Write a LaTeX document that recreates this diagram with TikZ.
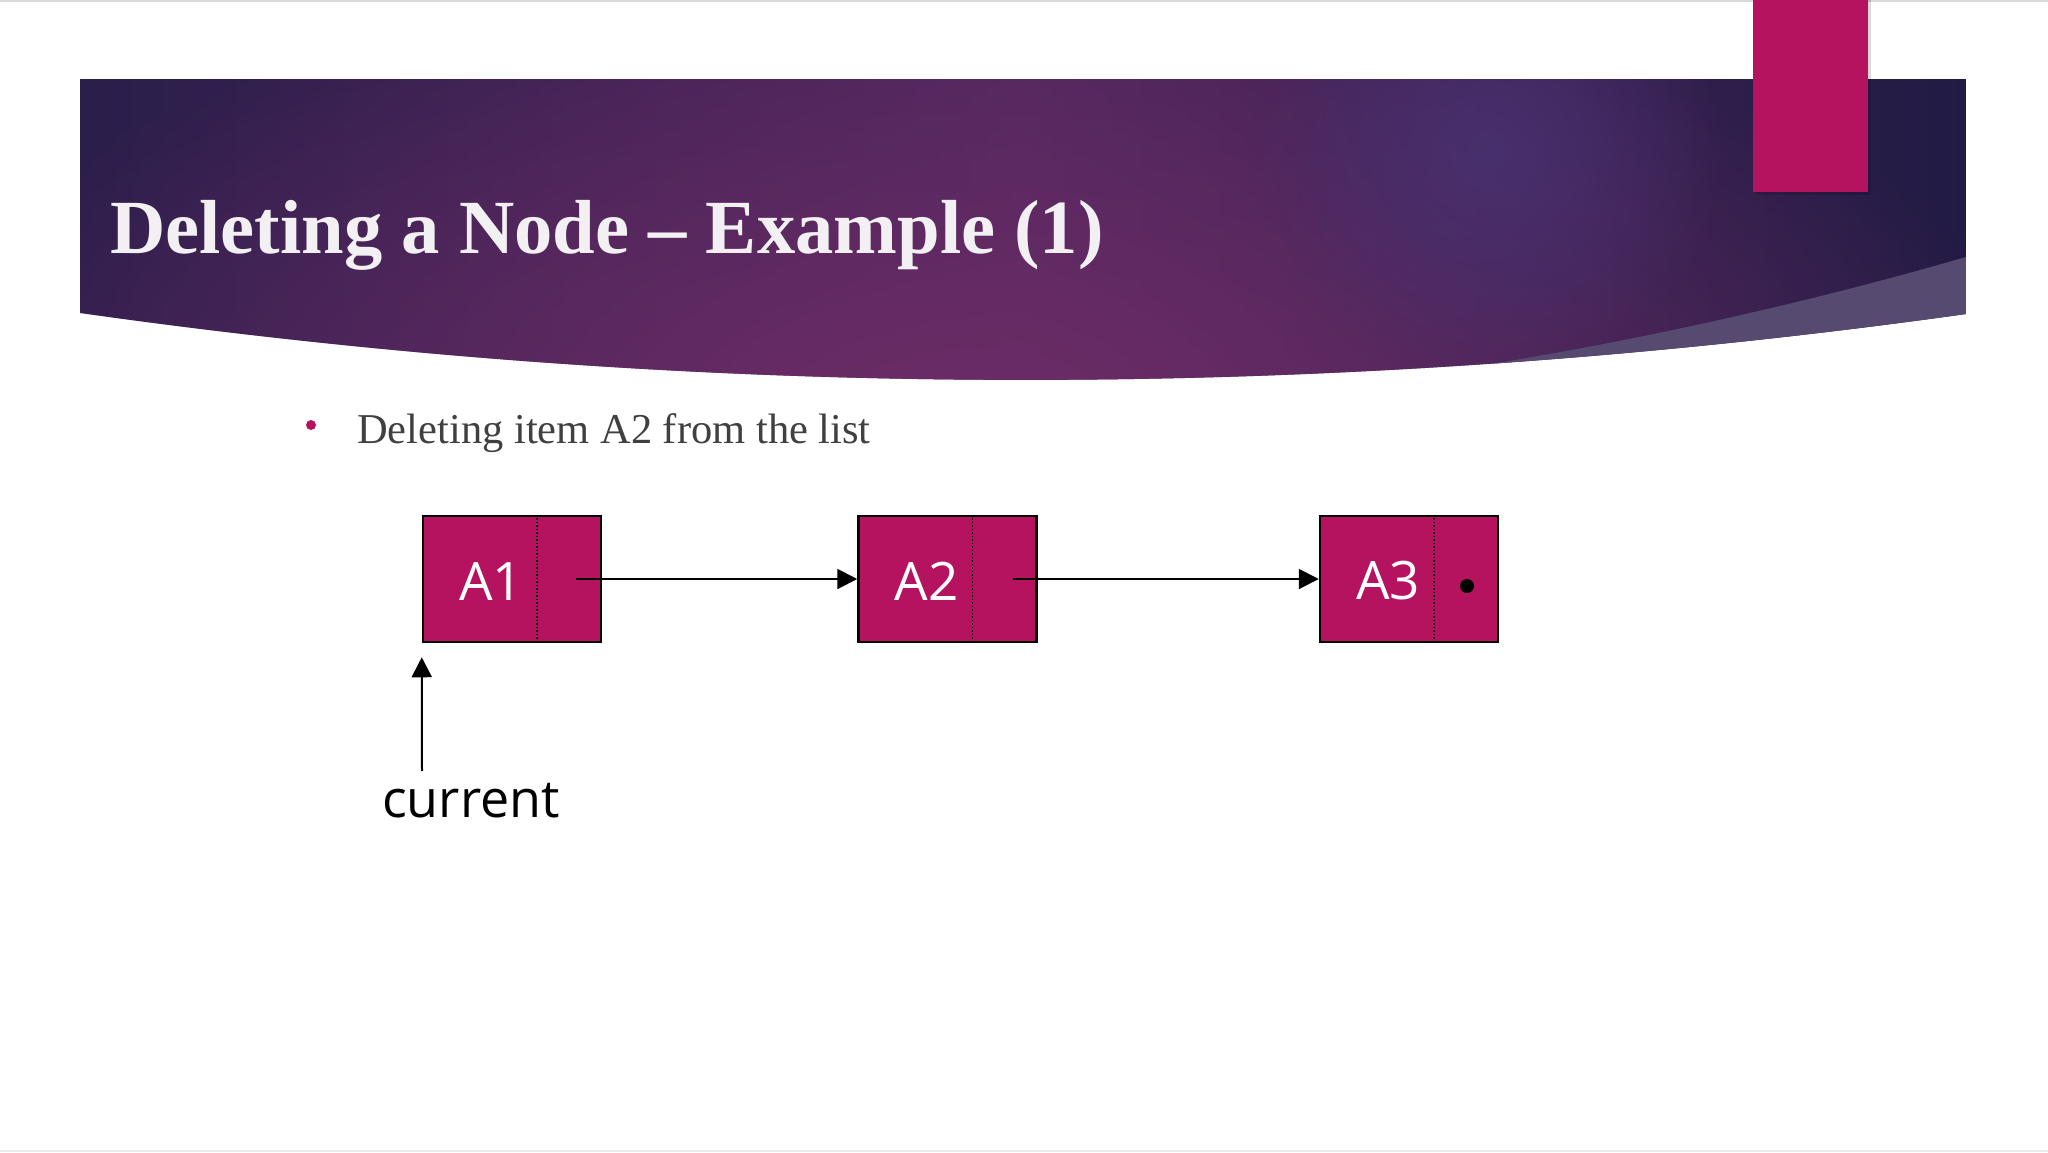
\documentclass[tikz,border=0pt]{standalone}
\usepackage{fontspec}
\setmainfont{Liberation Serif}
\newfontfamily\opensans{Open Sans}
\usetikzlibrary{positioning, arrows.meta, fadings}
\definecolor{bandleft}{HTML}{2A1E4B}
\definecolor{bandmid}{HTML}{522760}
\definecolor{bandright}{HTML}{211B44}
\definecolor{bandglow}{HTML}{6C2C66}
\definecolor{bandspot}{HTML}{48306E}
\definecolor{bandlight}{HTML}{564A70}
\definecolor{cellred}{HTML}{B5135F}
\definecolor{itemgray}{HTML}{404040}
\tikzfading[name=glowfade, inner color=transparent!0, outer color=transparent!100]

\begin{document}
\begin{tikzpicture}[x=1pt, y=-1pt,
  cell/.style={draw=black, line width=2.5pt, fill=cellred, minimum width=178pt, minimum height=126pt, inner sep=0pt},
  celltext/.style={text=white, font=\opensans\fontsize{53}{60}\selectfont, inner sep=0pt},
  ptr/.style={-{Triangle[length=20pt, width=20pt]}, line width=2pt}]
\useasboundingbox (0,0) rectangle (2048,1152);
% 边线
\draw[line width=2pt, black!15] (0,1) -- (2048,1);
\draw[line width=2pt, black!8] (0,1151) -- (2048,1151);
% 标题栏
\begin{scope}
\clip (80,79) -- (1966,79) -- (1966,314) .. controls (1337,402) and (709,402) .. (80,313) -- cycle;
\shade[left color=bandleft, right color=bandright, middle color=bandmid] (80,70) rectangle (1966,410);
\fill[bandglow, path fading=glowfade] (960,410) ellipse [x radius=1100, y radius=440];
\fill[bandspot, path fading=glowfade] (1490,150) circle (240pt);
\fill[bandlight] (1966,257) .. controls (1800,305) and (1620,345) .. (1440,372) -- (1440,450) -- (1966,450) -- cycle;
\end{scope}
\fill[black, opacity=0.15] (1756,0) rectangle (1871,195);
\fill[cellred] (1753,0) rectangle (1868,192);
%Text
\node[anchor=base west, inner sep=0pt, text={rgb,255:red,242;green,240;blue,242}, font=\bfseries\fontsize{76.6}{80}\selectfont] (title) at (110,253) {Deleting a Node -- Example (1)};
\fill[cellred] (311,425) circle (5pt);
\node[anchor=base west, inner sep=0pt, text=itemgray, font=\fontsize{42.5}{50}\selectfont] (item) at (357,443) {Deleting item A2 from the list};
% 链表
\node[cell] (a1) at (512,579) {};
\node[cell, right=255pt of a1] (a2) {};
\node[cell, right=281pt of a2] (a3) {};
\foreach \c/\t in {a1/A1, a2/A2, a3/A3} {
  \draw[dotted, line width=1.5pt] ([xshift=25pt]\c.north) -- ([xshift=25pt]\c.south);
  \node[celltext] (\c-txt) at ([xshift=-21pt, yshift=-2pt]\c.center) {\t};
}
\draw[ptr] ([xshift=64pt]a1.center) -- (a2.west);
\draw[ptr] ([xshift=65pt]a2.center) -- (a3.west);
\fill ([xshift=58pt, yshift=-7pt]a3.center) circle (7pt);
% current
\node[anchor=base west, inner sep=0pt, font=\opensans\fontsize{52}{60}\selectfont] (cur) at (382,817) {current};
\coordinate (curfoot) at (422,771);
\draw[ptr] (curfoot) -- ([yshift=-14pt]a1.south west);
\end{tikzpicture}
\end{document}
